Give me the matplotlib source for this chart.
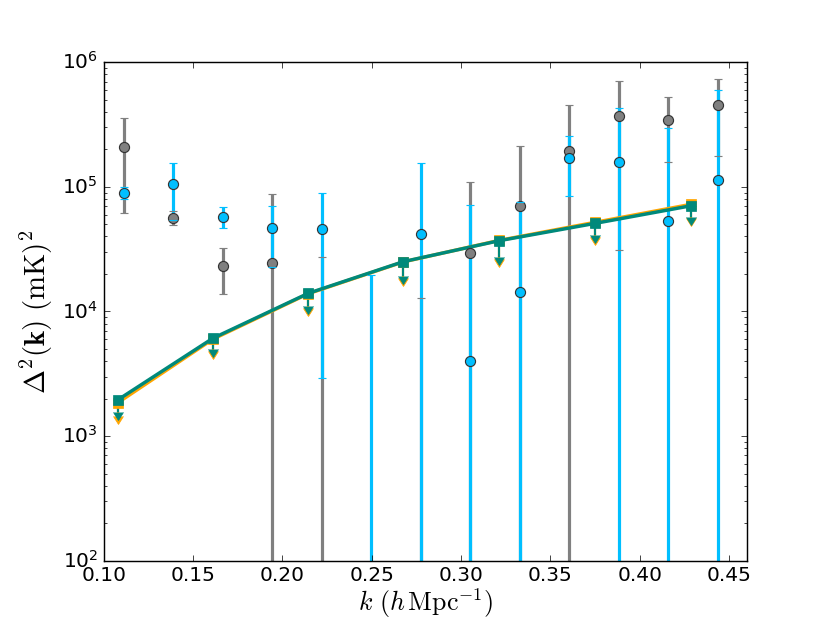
import numpy as np
import matplotlib
matplotlib.use("Agg")
import matplotlib.pyplot as plt

plt.style.use('classic')

# measured bandpowers (two seasons), value +/- 1 sigma
k_bins = [0.1113, 0.1388, 0.1668, 0.1943, 0.2220, 0.2496, 0.2774,
          0.3050, 0.3328, 0.3606, 0.3882, 0.4160, 0.4438]

gray_val = [2.10e5, 5.66e4, 2.31e4, 2.47e4, -1.0e4, np.nan, -3.0e4,
            2.95e4, 7.06e4, 1.93e5, 3.72e5, 3.42e5, 4.54e5]
gray_err = [1.48e5, 7.0e3, 9.4e3, 6.33e4, 3.75e4, np.nan, 4.29e4,
            8.05e4, 1.44e5, 2.63e5, 3.41e5, 1.85e5, 2.77e5]

blue_val = [8.98e4, 1.05e5, 5.77e4, 4.66e4, 4.62e4, -1.0e4, 4.19e4,
            4.03e3, 1.43e4, 1.71e5, 1.59e5, 5.30e4, 1.14e5]
blue_err = [9.3e3, 5.05e4, 1.07e4, 2.40e4, 4.33e4, 2.96e4, 1.15e5,
            6.70e4, 6.17e4, 8.60e4, 2.68e5, 2.42e5, 4.82e5]

# upper limits
lim_k = [0.1078, 0.1611, 0.2145, 0.2676, 0.3213, 0.3751, 0.4288]
orange_val = [1.85e3, 6.0e3, 1.39e4, 2.50e4, 3.72e4, 5.20e4, 7.25e4]
orange_low = [1.46e3, 4.85e3, 1.06e4, 1.85e4, 2.66e4, 3.98e4, 5.6e4]
teal_val = [1.95e3, 6.1e3, 1.40e4, 2.51e4, 3.70e4, 5.10e4, 7.06e4]
teal_low = [1.57e3, 5.0e3, 1.1e4, 1.91e4, 2.75e4, 4.12e4, 5.78e4]

GRAY = '#808080'
BLUE = '#00bfff'
ORANGE = '#ffa500'
TEAL = '#00897b'

fig = plt.figure(figsize=(8, 6.005), dpi=103.75, facecolor='white')
ax = fig.add_subplot(111)
ax.set_yscale('log')


def limits(k, val, low, color):
    val = np.array(val)
    err = val - np.array(low)
    line, caps, bars = ax.errorbar(k, val, yerr=err, uplims=True, color=color,
                                   marker='s', ms=6.5, mec=color, mfc=color,
                                   lw=2.4, elinewidth=1.5, capsize=3.5)
    line.set_zorder(2.5)
    for c in caps:
        c.set_zorder(2.5)
        c.set_markeredgecolor(color)
        c.set_markerfacecolor(color)


def points(k, val, err, color):
    line, caps, bars = ax.errorbar(k, val, yerr=err, fmt='o', color=color,
                                   ms=7, mfc=color, mec='#333333', mew=0.8,
                                   elinewidth=2.2, capsize=3, capthick=1)
    bars[0].set_zorder(2)
    line.set_zorder(3)
    for c in caps:
        c.set_zorder(3)


limits(lim_k, orange_val, orange_low, ORANGE)
limits(lim_k, teal_val, teal_low, TEAL)
points(k_bins, gray_val, gray_err, GRAY)
points(k_bins, blue_val, blue_err, BLUE)

ax.set_xlim(0.10, 0.46)
ax.set_ylim(1e2, 1e6)
ax.set_xticks(np.arange(0.10, 0.451, 0.05))
ax.tick_params(labelsize=14)
ax.set_xlabel(r'$k\ (h\,\mathrm{Mpc}^{-1})$', fontsize=18, labelpad=1)
ax.set_ylabel(r'$\Delta^2(\mathbf{k})\ (\mathrm{mK})^2$', fontsize=20)

fig.savefig('out.png', dpi=103.75, facecolor='white')
